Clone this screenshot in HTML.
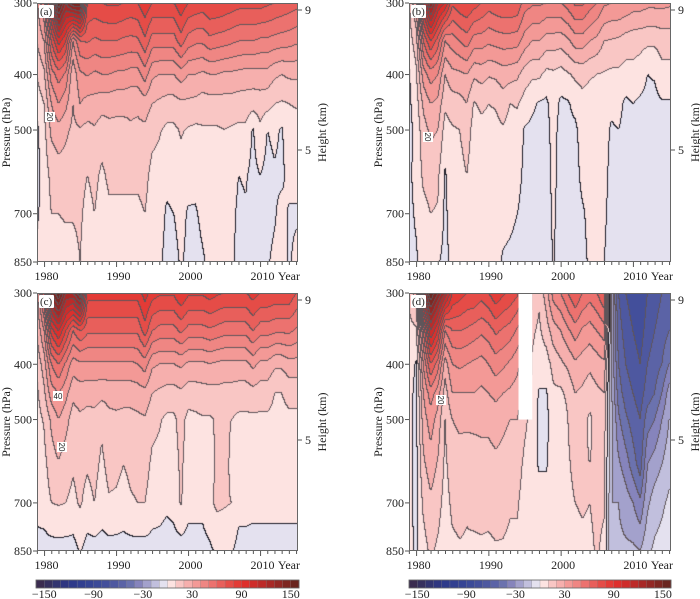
<!DOCTYPE html>
<html><head><meta charset="utf-8">
<style>
html,body{margin:0;padding:0;background:#fff;}
#wrap{position:relative;width:700px;height:599px;overflow:hidden;font-family:"Liberation Serif",serif;}
canvas{position:absolute;}
svg{position:absolute;left:0;top:0;}
svg text{font-family:"Liberation Serif","Times New Roman",serif;}
svg text.cl{font-family:"Liberation Sans",sans-serif;}
</style></head>
<body>
<div id="wrap">
<canvas id="ca"></canvas>
<canvas id="cb"></canvas>
<canvas id="cc"></canvas>
<canvas id="cd"></canvas>
<svg id="ov" width="700" height="599"></svg>
</div>
<script>
const years = [1979,1980,1981,1982,1983,1984,1985,1986,1987,1988,1989,1990,1991,1992,1993,1994,1995,1996,1997,1998,1999,2000,2001,2002,2003,2004,2005,2006,2007,2008,2009,2010,2011,2012,2013,2014,2015];
const pressureLevels = [300,350,400,450,500,600,700,850];
const pressureTicks = [300,400,500,700,850];
const heightTicks = [9,5];
const yearTicks = [1980,1990,2000,2010];
const colorbarTicks = [-150,-90,-30,30,90,150];
const dMissing = [1994.1,1996.0,300,500];

const panelAValues = [
[28,21,11,4,-2,-3,-1,2],[50,30,18,10,7,4,3,3],[110,70,45,30,22,13,10,6],[160,95,55,40,26,15,10,6],
[130,80,48,33,22,15,11,6],[150,40,22,20,18,14,11,6],[150,60,38,30,19,14,12,10],[80,61,41,26,17,10,6,3],
[78,58,38,26,19,13,10,6],[80,60,40,24,15,8,5,3],[82,60,40,24,17,12,8,4],[82,60,38,23,17,12,8,4],
[80,58,38,23,17,12,8,4],[78,57,36,22,19,12,8,4],[80,58,36,22,18,12,8,4],[88,68,45,25,18,13,10,5],
[80,55,32,20,13,7,5,3],[80,55,30,18,11,6,4,2],[80,55,30,16,8,2,-1,-3],[80,55,30,16,8,3,0,-3],
[88,65,35,18,11,6,3,1],[80,55,30,18,9,4,-1,-2],[78,52,30,17,8,3,-1,-3],[76,52,28,15,9,5,2,-1],
[80,57,30,16,9,5,3,2],[80,55,30,16,9,5,3,2],[78,54,28,16,10,5,3,2],[76,52,28,16,9,5,3,2],
[74,50,27,15,8,0,-2,-3],[74,50,26,15,8,1,-1,-3],[74,50,26,14,-1,-3,-3,-3],[74,48,26,15,8,0,-2,-2],
[72,48,26,14,0,-3,-3,-1],[70,46,22,10,2,-1,-1,2],[68,45,20,9,-1,-2,3,4],[66,44,22,10,6,3,-1,-1],
[64,42,22,11,6,3,-1,2]];

const panelBValues = [
[8,5,-1,-2,-3,-2,-2,-2],[30,15,8,5,3,3,1,-1],[100,60,35,22,16,12,7,3],[140,80,45,30,22,14,10,5],
[110,65,40,27,20,12,9,1],[100,40,20,12,6,-1,-2,-3],[72,45,27,15,9,6,5,3],[78,50,28,16,10,6,4,3],
[80,55,30,20,15,10,6,3],[75,45,22,9,6,4,2,0],[70,45,24,12,7,5,3,2],[65,42,21,10,7,5,4,3],
[68,44,22,11,7,5,4,3],[70,45,25,15,9,5,3,-1],[70,45,24,10,6,4,2,-2],[68,44,22,11,6,3,0,-3],
[55,35,15,6,-1,-2,-3,-3],[52,30,12,2,-2,-3,-3,-3],[52,30,12,-1,-3,-3,-3,-3],[50,25,7,-2,-3,-3,-3,-3],
[50,25,8,5,3,2,1,0.5],[50,24,6,-2,-3,-3,-3,-3],[55,28,9,-1,-3,-3,-3,-3],[62,35,12,3,-2,-3,-3,-3],
[62,35,13,7,4,2,-1,-2],[55,30,11,6,4,3,2,1],[50,27,10,5,4,3,2,1],[42,20,9,5,3,2,1,0],
[40,19,8,2,-1,-2,-2,-2],[40,18,8,3,0,-2,-2,-2],[38,15,6,-2,-3,-3,-3,-3],[35,14,7,0,-2,-3,-3,-3],
[35,13,5,-2,-3,-3,-3,-3],[33,12,0,-3,-3,-3,-3,-3],[33,12,1,-3,-3,-3,-3,-3],[33,14,7,-1,-3,-3,-3,-3],
[32,14,7,-1,-3,-3,-3,-3]];

const panelCValues = [
[25,21,13,8,6,5,4,-4],[70,40,25,18,11,7,5,-4],[140,85,50,35,22,15,10,-4],[160,100,60,40,30,19,11,-4],
[130,80,48,33,24,14,10,-4],[130,60,35,23,15,11,8,-4],[150,70,38,25,18,13,11,1],[85,62,38,24,16,11,7,-4],
[85,62,38,24,17,13,10,-4],[85,62,38,23,12,8,5,-4],[85,62,38,24,17,13,9,-4],[85,62,38,24,18,13,8,-4],
[85,62,38,24,17,10,6,-4],[85,62,38,24,17,12,9,-4],[85,62,40,25,18,13,10,-4],[95,75,45,27,19,14,10,-4],
[85,60,32,20,13,8,5,-4],[82,56,30,18,11,7,4,-4],[82,56,30,16,8,5,2,-5],[82,56,30,16,8,5,3,-4],
[90,62,32,18,14,12,11,-5],[82,56,28,15,7,5,3,-4],[82,56,28,15,8,5,3,-4],[82,56,28,16,9,5,3,-4],
[85,58,30,16,9,6,8,-2],[82,56,28,17,11,12,12,2],[80,54,27,16,12,14,11,2],[80,54,27,16,10,8,10,1],
[80,54,27,15,8,5,3,-3],[80,54,27,15,8,5,3,-3],[85,60,33,16,8,5,3,-4],[80,54,27,15,8,5,3,-4],
[80,54,27,15,8,5,3,-4],[78,52,22,10,7,5,3,-4],[78,52,22,10,7,5,3,-4],[78,52,26,13,8,5,3,-4],
[70,48,26,13,8,5,3,-4]];

const panelDValues = [
[12,7,5,4,3,3,2,2],[25,8,-1,-3,-3,-3,-2,-1],[130,60,40,30,25,18,12,6],[160,110,70,45,35,25,18,12],
[140,90,55,35,26,19,14,8],[120,50,25,15,10,8,6,4],[90,60,40,30,20,15,12,8],[85,60,42,30,22,16,13,9],
[80,58,40,30,22,15,11,9],[80,55,38,30,22,16,13,8],[75,52,36,28,22,17,14,8],[80,55,40,30,22,17,13,8],
[88,62,45,33,24,18,14,9],[82,58,42,30,22,17,13,9],[78,55,38,28,20,15,11,8],[72,48,33,25,20,14,11,8],
[60,40,25,18,12,8,6,4],[20,12,9,8,7,5,4,4],[12,8,5,-1,-2,-1,4,4],[25,15,5,-1,-3,-1,4,4],
[45,25,14,8,6,6,5,4],[50,30,18,8,0,6,6,5],[60,38,22,13,10,9,8,6],[70,45,28,20,15,12,10,7],
[60,38,25,18,14,12,11,8],[55,35,22,15,8,10,10,8],[60,40,25,18,14,12,12,11],[70,45,28,20,15,12,11,8],
[-20,-20,-20,-18,-16,-18,-20,-20],[-60,-55,-50,-45,-38,-28,-20,-18],[-70,-65,-60,-55,-48,-35,-25,-18],
[-75,-70,-65,-60,-55,-45,-30,-18],[-80,-75,-70,-65,-60,-55,-38,-20],[-70,-65,-60,-55,-45,-30,-22,-12],
[-65,-60,-55,-50,-40,-25,-15,-8],[-60,-55,-50,-40,-30,-20,-12,-6],[-55,-50,-40,-25,-20,-14,-8,-2]];

const palette = {
"-16":"#3b2c50","-15":"#36305e","-14":"#323470","-13":"#2f3680","-12":"#2e3a8a","-11":"#313f90",
"-10":"#354494","-9":"#3b4a98","-8":"#434f9b","-7":"#4e58a0","-6":"#5b63a6","-5":"#6b72ae",
"-4":"#8684bc","-3":"#a3a1cc","-2":"#c1bfdd","-1":"#e4e1ef","0":"#fde3e1","1":"#f9c6c4",
"2":"#f6afad","3":"#f39996","4":"#ef8683","5":"#ec726f","6":"#e85f5b","7":"#e54c47",
"8":"#e33b36","9":"#de2f2c","10":"#cf2c2a","11":"#bd2a28","12":"#a82826","13":"#932724",
"14":"#7e2621","15":"#6a251f"};

const panels = [
 {id:"ca",key:"a",vals:panelAValues,x:37,y:3,w:261,h:259},
 {id:"cb",key:"b",vals:panelBValues,x:409,y:3,w:262,h:259},
 {id:"cc",key:"c",vals:panelCValues,x:37,y:293,w:261,h:258},
 {id:"cd",key:"d",vals:panelDValues,x:409,y:293,w:262,h:258}
];
const PX_PER_YR = 7.2, YEAR0 = 1978.95;
const LN0 = Math.log(300), LN1 = Math.log(850);
function xScale(p, yr){ return p.x + (yr - YEAR0) * PX_PER_YR * (p.w/261); }
function yScale(p, pr){ return p.y + (Math.log(pr) - LN0) / (LN1 - LN0) * p.h; }
function hexRGB(h){ return [parseInt(h.substr(1,2),16),parseInt(h.substr(3,2),16),parseInt(h.substr(5,2),16)]; }
function band(v){ let k=Math.floor(v/10); if(k<-16)k=-16; if(k>15)k=15; return k; }
const lnLev = pressureLevels.map(Math.log);

function valueAt(vals, yr, lp){
  let fi = yr - years[0];
  if (fi<0) fi=0; if (fi>years.length-1) fi=years.length-1;
  let i0=Math.floor(fi); if(i0>=years.length-1) i0=years.length-2;
  const tx=fi-i0;
  let j0=0; while(j0<lnLev.length-2 && lp>lnLev[j0+1]) j0++;
  let ty=(lp-lnLev[j0])/(lnLev[j0+1]-lnLev[j0]); ty=Math.max(0,Math.min(1,ty));
  const a=vals[i0][j0], b=vals[i0+1][j0], c=vals[i0][j0+1], d=vals[i0+1][j0+1];
  return (a*(1-tx)+b*tx)*(1-ty) + (c*(1-tx)+d*tx)*ty;
}

panels.forEach(p=>{
  const cv=document.getElementById(p.id);
  cv.width=p.w; cv.height=p.h;
  cv.style.left=p.x+"px"; cv.style.top=p.y+"px";
  const ctx=cv.getContext("2d");
  const img=ctx.createImageData(p.w,p.h);
  const bands=new Int8Array(p.w*p.h);
  for(let j=0;j<p.h;j++){
    const lp=LN0+(j+0.5)/p.h*(LN1-LN0);
    for(let i=0;i<p.w;i++){
      const yr=YEAR0+(i+0.5)/(PX_PER_YR*(p.w/261));
      bands[j*p.w+i]=band(valueAt(p.vals,yr,lp));
    }
  }
  for(let j=0;j<p.h;j++){
    for(let i=0;i<p.w;i++){
      const k=bands[j*p.w+i];
      let rgb=hexRGB(palette[String(k)]);
      const r=i<p.w-1?bands[j*p.w+i+1]:k, dn=j<p.h-1?bands[(j+1)*p.w+i]:k;
      if(r!==k||dn!==k){
        const zero=(k===0&&(r===-1||dn===-1))||(k===-1&&(r===0||dn===0));
        rgb = zero? [30,30,40] : [95,85,90];
      }
      const o=(j*p.w+i)*4;
      img.data[o]=rgb[0];img.data[o+1]=rgb[1];img.data[o+2]=rgb[2];img.data[o+3]=255;
    }
  }
  ctx.putImageData(img,0,0);
});

const NS="http://www.w3.org/2000/svg";
const ov=document.getElementById("ov");
function mk(tag,attrs,parent){ const e=document.createElementNS(NS,tag); for(const k in attrs)e.setAttribute(k,attrs[k]); (parent||ov).appendChild(e); return e; }
function txt(s,attrs){ const e=mk("text",Object.assign({"font-size":"12",fill:"#222"},attrs)); e.textContent=s; return e; }

{
  const p=panels[3];
  const r=mk("rect",{x:xScale(p,dMissing[0]),y:yScale(p,dMissing[2]),width:xScale(p,dMissing[1])-xScale(p,dMissing[0]),height:yScale(p,dMissing[3])-yScale(p,dMissing[2]),fill:"#fff"});
  
  
}

panels.forEach(p=>{
  const g=mk("g",{});
  
  
  const fr=mk("rect",{x:p.x+0.5,y:p.y+0.5,width:p.w-1,height:p.h-1,fill:"none",stroke:"#666","stroke-width":"1"},g);
  
  
  pressureTicks.forEach(pr=>{
    const y=yScale(p,pr);
    mk("line",{x1:p.x-4,x2:p.x,y1:y,y2:y,stroke:"#555"},g);
    const t=txt(String(pr),{x:p.x-5,y:y+4,"text-anchor":"end"});
    
    
  });
  for(let yr=1979;yr<=2015;yr++){
    const x=xScale(p,yr);
    const major=yr%10===0;
    mk("line",{x1:x,x2:x,y1:p.y+p.h,y2:p.y+p.h+(major?5:3),stroke:"#555"},g);
  }
  yearTicks.forEach(yr=>{
    const t=txt(String(yr),{x:xScale(p,yr)+2,y:p.y+p.h+18,"text-anchor":"middle"});
    
    
  });
  const yl=txt("Year",{x:p.x+p.w+2,y:p.y+p.h+18,"text-anchor":"end"});
  
  
  const hy={9:p.y+7,5:p.y+147};
  heightTicks.forEach(h=>{
    const y=hy[h];
    mk("line",{x1:p.x+p.w,x2:p.x+p.w+4,y1:y,y2:y,stroke:"#555"},g);
    const t=txt(String(h),{x:p.x+p.w+7,y:y+4});
    
    
  });
  const cy=p.y+p.h/2;
  const pt=txt("Pressure (hPa)",{x:0,y:0,"text-anchor":"middle",transform:"translate("+(p.x-27)+","+cy+") rotate(-90)"});
  
  
  const ht=txt("Height (km)",{x:0,y:0,"text-anchor":"middle",transform:"translate("+(p.x+p.w+28)+","+cy+") rotate(-90)"});
  
  
  mk("rect",{x:p.x+2,y:p.y+2,width:15,height:13,fill:"#fff",rx:"1"},g);
  const lt=txt("("+p.key+")",{x:p.x+3,y:p.y+12,"font-size":"11"});
  
  
});

[[50,117,"20",90],[428,137,"20",90],[58,396,"40",0],[62,447,"20",90],[441,400,"20",90]].forEach(l=>{
  mk("rect",{x:l[0]-5,y:l[1]-5,width:10,height:10,fill:"#fff"});
  const t=txt(l[2],{x:l[0],y:l[1]+3,"font-size":"8","class":"cl","text-anchor":"middle",transform:"rotate("+l[3]+","+l[0]+","+l[1]+")"});
  
  
});

[[36,299],[409,671]].forEach((cb,ci)=>{
  const g=mk("g",{});
  
  
  const w=(cb[1]-cb[0])/32;
  for(let k=-16;k<16;k++){
    const r=mk("rect",{x:cb[0]+(k+16)*w,y:580,width:w+0.3,height:8,fill:palette[String(k)],stroke:"#888","stroke-width":"0.3"},g);
    
    
  }
  mk("rect",{x:cb[0],y:580,width:cb[1]-cb[0],height:8,fill:"none",stroke:"#666","stroke-width":"0.8"},g);
  colorbarTicks.forEach(v=>{
    const t=txt(v<0?"\u2212"+(-v):String(v),{x:cb[0]+(v+160)/320*(cb[1]-cb[0]),y:598,"text-anchor":"middle"});
    
    
  });
});
</script>
</body></html>
